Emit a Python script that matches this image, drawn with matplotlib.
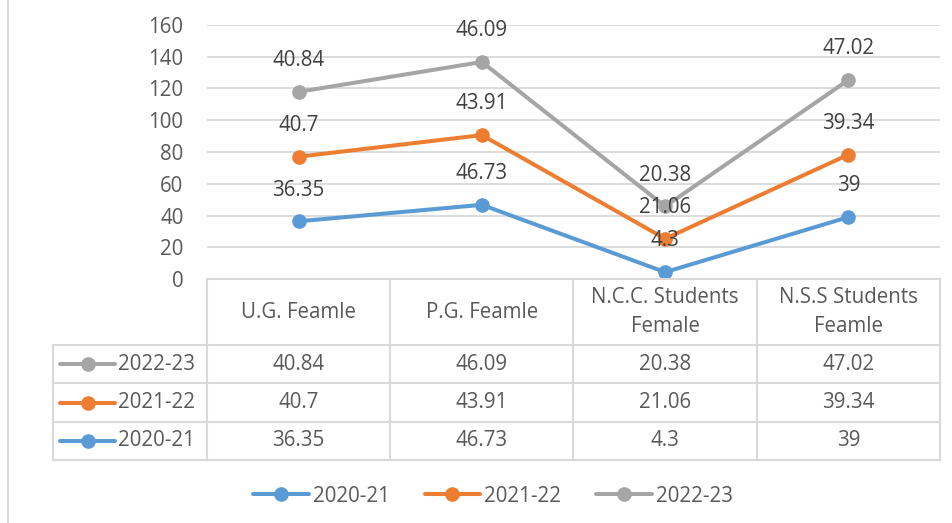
import numpy as np
import matplotlib
matplotlib.use('Agg')
import matplotlib.pyplot as plt
from matplotlib.lines import Line2D
from matplotlib.transforms import blended_transform_factory

plt.rcParams['font.family'] = ['Open Sans', 'DejaVu Sans']

categories = ['U.G. Feamle', 'P.G. Feamle', 'N.C.C. Students\nFemale', 'N.S.S Students\nFeamle']
series_names = ['2020-21', '2021-22', '2022-23']
vals_2020_21 = [36.35, 46.73, 4.3, 39]
vals_2021_22 = [40.7, 43.91, 21.06, 39.34]
vals_2022_23 = [40.84, 46.09, 20.38, 47.02]
colors = ['#5B9BD5', '#ED7D31', '#A5A5A5']
y_ticks = [0, 20, 40, 60, 80, 100, 120, 140, 160]

W, H = 953, 523
fig = plt.figure(figsize=(W / 100, H / 100), dpi=100)

def px_box(x0, y0, x1, y1):
    # pixel box (top-left origin) -> figure fraction rect
    return [x0 / W, 1 - y1 / H, (x1 - x0) / W, (y1 - y0) / H]

ax = fig.add_axes(px_box(207, 25, 940, 279))
tab = fig.add_axes(px_box(207, 279, 940, 460))
tab.axis('off')

text_col = '#595959'
grid_col = '#D9D9D9'
fs = 14.8

# stacked lines
data = [vals_2020_21, vals_2021_22, vals_2022_23]
x = np.arange(len(categories))
stacked = np.cumsum(np.array(data), axis=0)
handles = []
for i, name in enumerate(series_names):
    ln, = ax.plot(x, stacked[i], color=colors[i], lw=2.9, marker='o', ms=9.5,
                  label=name, solid_capstyle='round', zorder=3)
    handles.append(ln)
    for xi, yi, v in zip(x, stacked[i], data[i]):
        ax.annotate(f'{v:g}', (xi, yi), xytext=(0, 22.5), textcoords='offset points',
                    ha='center', va='center', fontsize=fs, color='#404040', zorder=4)

ax.set_xlim(-0.5, len(categories) - 0.5)
ax.set_ylim(0, 160)
ax.set_yticks(y_ticks)
ax.set_xticks([])
ax.tick_params(axis='y', length=0, pad=17, labelsize=fs, labelcolor=text_col)
ax.yaxis.grid(True, color=grid_col, lw=1.3)
ax.set_axisbelow(True)
for s in ax.spines.values():
    s.set_visible(False)

# data table under the plot
tr = blended_transform_factory(ax.transData, tab.transAxes)
key_left = -0.5 - 154 / 183.25
row_edges = [1.0, 0.635, 0.425, 0.21, 0.0]
lkw = dict(color=grid_col, lw=1.5, transform=tr, clip_on=False)

tab.plot([-0.5, 3.5], [1, 1], **lkw)
for yy in row_edges[1:]:
    tab.plot([key_left, 3.5], [yy, yy], **lkw)
for xx in np.arange(-0.5, 4.0, 1.0):
    tab.plot([xx, xx], [0, 1], **lkw)
tab.plot([key_left, key_left], [0, row_edges[1]], **lkw)

for xi, cat in zip(x, categories):
    tab.text(xi, (row_edges[0] + row_edges[1]) / 2, cat, transform=tr, ha='center',
             va='center', fontsize=fs, color=text_col, linespacing=1.45)

# rows listed top to bottom: newest series first
for r, si in enumerate([2, 1, 0]):
    yc = (row_edges[r + 1] + row_edges[r + 2]) / 2
    for xi, v in zip(x, data[si]):
        tab.text(xi, yc, f'{v:g}', transform=tr, ha='center', va='center',
                 fontsize=fs, color=text_col)
    k0 = key_left + 0.04
    k1 = k0 + 0.30
    tab.add_line(Line2D([k0, k1], [yc, yc], color=colors[si], lw=2.9, transform=tr,
                        clip_on=False, solid_capstyle='round'))
    tab.add_line(Line2D([(k0 + k1) / 2], [yc], color=colors[si], marker='o', ms=9.5,
                        transform=tr, clip_on=False))
    tab.text(k1 + 0.015, yc, series_names[si], transform=tr, ha='left', va='center',
             fontsize=fs, color=text_col)

fig.legend(handles=handles, loc='center', bbox_to_anchor=(493 / W, 1 - 496 / H),
           ncol=3, frameon=False, fontsize=fs, handlelength=2.7, handletextpad=0.2,
           columnspacing=1.7, labelcolor=text_col)

# chart frame edge on the left
fig.add_artist(Line2D([8 / W, 8 / W], [0, 1], color=grid_col, lw=1.5))

fig.savefig('out.png', dpi=100)
